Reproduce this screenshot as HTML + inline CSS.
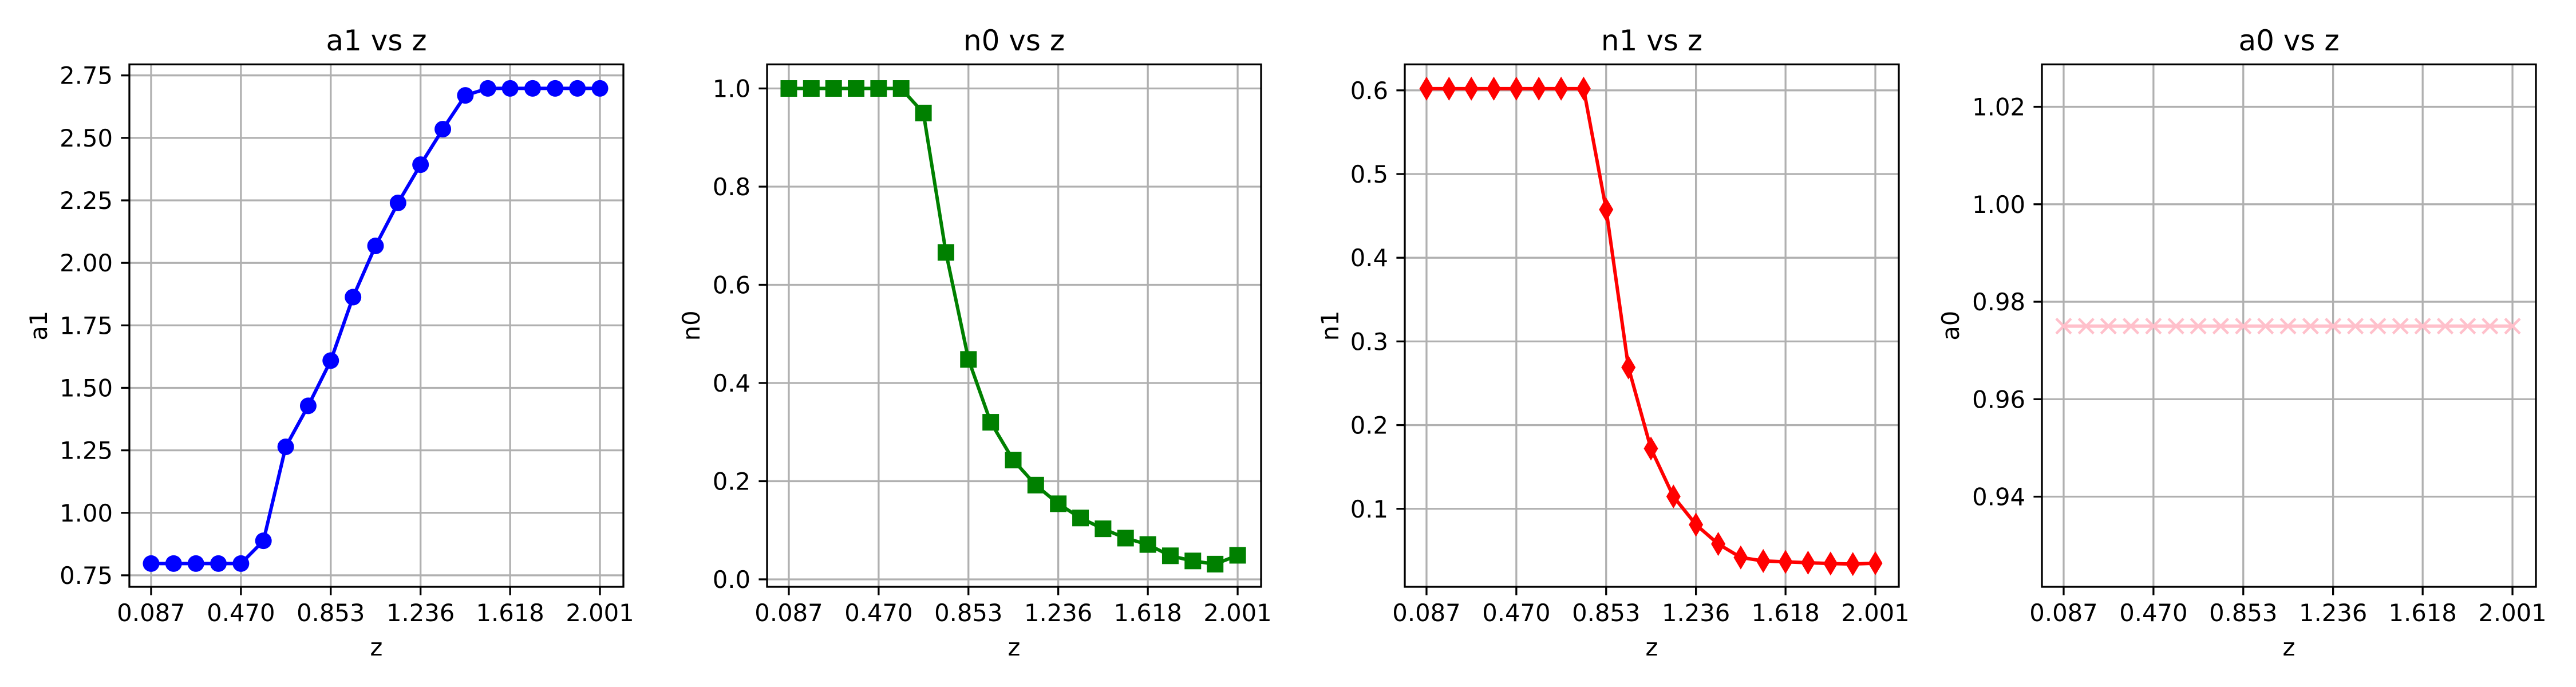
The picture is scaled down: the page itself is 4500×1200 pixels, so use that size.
<!DOCTYPE html>
<html><head><meta charset="utf-8"><style>
html,body{margin:0;padding:0;background:#fff;}
svg{display:block;font-family:"DejaVu Sans","Liberation Sans",sans-serif;}
</style></head><body>
<svg id="fig" width="4500" height="1200" viewBox="0 0 4500 1200"></svg>
<script>
const zValues = [0.087,0.183,0.278,0.374,0.470,0.566,0.661,0.757,0.853,0.948,1.044,1.140,1.236,1.331,1.427,1.523,1.618,1.714,1.810,1.905,2.001];
const xTickValues = [0.087,0.470,0.853,1.236,1.618,2.001];
const xTickLabels = ["0.087","0.470","0.853","1.236","1.618","2.001"];
const a1Values = [0.797,0.797,0.797,0.797,0.797,0.888,1.264,1.428,1.609,1.863,2.068,2.240,2.393,2.535,2.670,2.698,2.698,2.698,2.698,2.698,2.698];
const n0Values = [1.0,1.0,1.0,1.0,1.0,1.0,0.95,0.666,0.448,0.32,0.243,0.192,0.154,0.125,0.103,0.084,0.071,0.048,0.0375,0.031,0.049];
const n1Values = [0.602,0.602,0.602,0.602,0.602,0.602,0.602,0.602,0.4576,0.269,0.172,0.1147,0.081,0.058,0.0419,0.0377,0.0366,0.0356,0.0346,0.034,0.035];
const a0Values = [0.975,0.975,0.975,0.975,0.975,0.975,0.975,0.975,0.975,0.975,0.975,0.975,0.975,0.975,0.975,0.975,0.975,0.975,0.975,0.975,0.975];
const a1Ticks = [0.75,1.00,1.25,1.50,1.75,2.00,2.25,2.50,2.75];
const a1TickLabels = ["0.75","1.00","1.25","1.50","1.75","2.00","2.25","2.50","2.75"];
const n0Ticks = [0.0,0.2,0.4,0.6,0.8,1.0];
const n0TickLabels = ["0.0","0.2","0.4","0.6","0.8","1.0"];
const n1Ticks = [0.1,0.2,0.3,0.4,0.5,0.6];
const n1TickLabels = ["0.1","0.2","0.3","0.4","0.5","0.6"];
const a0Ticks = [0.94,0.96,0.98,1.00,1.02];
const a0TickLabels = ["0.94","0.96","0.98","1.00","1.02"];

const NS="http://www.w3.org/2000/svg";
const svg=document.getElementById('fig');
function mk(tag,attrs,parent){const e=document.createElementNS(NS,tag);for(const k in attrs)e.setAttribute(k,attrs[k]);(parent||svg).appendChild(e);return e;}

const panels=[
 {key:'a1',left:226,ymin:0.704,ymax:2.794,vals:a1Values,ticks:a1Ticks,labels:a1TickLabels,color:'#0000ff',marker:'circle',ylx:-159},
 {key:'n0',left:1340,ymin:-0.0152,ymax:1.049,vals:n0Values,ticks:n0Ticks,labels:n0TickLabels,color:'#008000',marker:'square',ylx:-133},
 {key:'n1',left:2454,ymin:0.0068,ymax:0.631,vals:n1Values,ticks:n1Ticks,labels:n1TickLabels,color:'#ff0000',marker:'diamond',ylx:-131},
 {key:'a0',left:3567,ymin:0.9215,ymax:1.0287,vals:a0Values,ticks:a0Ticks,labels:a0TickLabels,color:'#ffc0cb',marker:'x',ylx:-160}
];
const TOP=112.5,BOT=1025,W=863,XMIN=-0.0057,XMAX=2.101;

panels.forEach(p=>{
  const g=mk('g',{});
  
  
  const xs=v=>p.left+(v-XMIN)/(XMAX-XMIN)*W;
  const ys=v=>BOT-(v-p.ymin)/(p.ymax-p.ymin)*(BOT-TOP);
  xTickValues.forEach((t,i)=>{
    const x=xs(t);
    const gl=mk('line',{x1:x,x2:x,y1:TOP,y2:BOT,stroke:'#b0b0b0','stroke-width':3.3},g);
    
    
    mk('line',{x1:x,x2:x,y1:BOT,y2:BOT+14.6,stroke:'#000','stroke-width':3.3},g);
    const tl=mk('text',{x:x,y:BOT+60,'font-size':41.7,'text-anchor':'middle',fill:'#000'},g);
    tl.textContent=xTickLabels[i];
    
    
  });
  p.ticks.forEach((t,i)=>{
    const y=ys(t);
    const gl=mk('line',{x1:p.left,x2:p.left+W,y1:y,y2:y,stroke:'#b0b0b0','stroke-width':3.3},g);
    
    
    mk('line',{x1:p.left-14.6,x2:p.left,y1:y,y2:y,stroke:'#000','stroke-width':3.3},g);
    const tl=mk('text',{x:p.left-29,y:y+15,'font-size':41.7,'text-anchor':'end',fill:'#000'},g);
    tl.textContent=p.labels[i];
    
    
  });
  const pts=zValues.map((z,i)=>xs(z).toFixed(1)+','+ys(p.vals[i]).toFixed(1)).join(' ');
  const pl=mk('polyline',{points:pts,fill:'none',stroke:p.color,'stroke-width':6,'stroke-linejoin':'round'},g);
  
  
  zValues.forEach((z,i)=>{
    const x=xs(z),y=ys(p.vals[i]);let m;
    if(p.marker==='circle') m=mk('circle',{cx:x,cy:y,r:14.5,fill:p.color},g);
    else if(p.marker==='square') m=mk('rect',{x:x-14.5,y:y-14.5,width:29,height:29,fill:p.color},g);
    else if(p.marker==='diamond') m=mk('polygon',{points:`${x},${y-21} ${x+12.5},${y} ${x},${y+21} ${x-12.5},${y}`,fill:p.color},g);
    else m=mk('path',{d:`M${x-13},${y-13}L${x+13},${y+13}M${x-13},${y+13}L${x+13},${y-13}`,stroke:p.color,'stroke-width':4.5},g);
    
    
  });
  const fr=mk('rect',{x:p.left,y:TOP,width:W,height:BOT-TOP,fill:'none',stroke:'#000','stroke-width':3.3},g);
  
  
  const tt=mk('text',{x:p.left+W/2,y:88,'font-size':50,'text-anchor':'middle',fill:'#000'},g);
  tt.textContent=p.key+' vs z';
  
  
  const xl=mk('text',{x:p.left+W/2,y:1145,'font-size':41.7,'text-anchor':'middle',fill:'#000'},g);
  xl.textContent='z';
  
  
  const yx=p.left+p.ylx+15, yy=(TOP+BOT)/2;
  const yl=mk('text',{x:yx,y:yy,'font-size':41.7,'text-anchor':'middle',fill:'#000',transform:`rotate(-90 ${yx} ${yy})`},g);
  yl.textContent=p.key;
  
  
});
</script>
</body></html>
